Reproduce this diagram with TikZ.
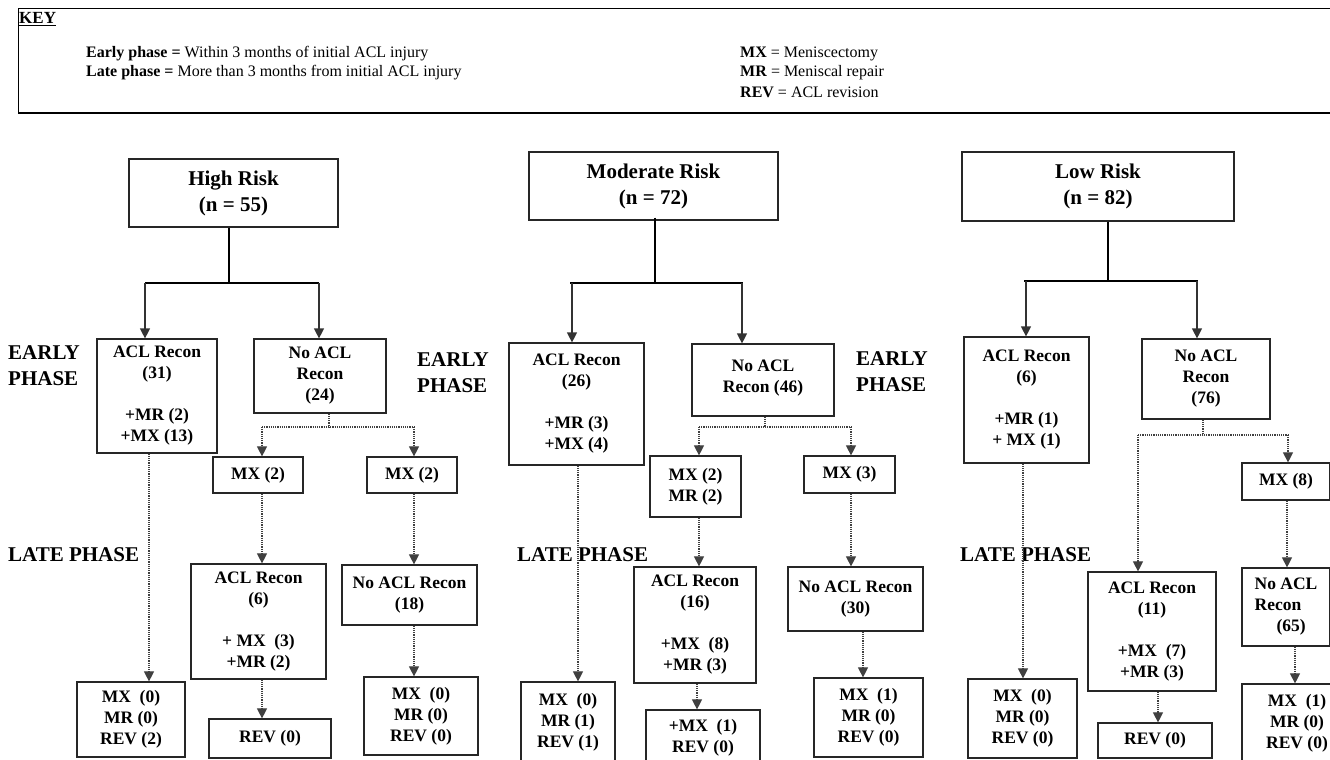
\documentclass[tikz,border=0pt]{standalone}
\usepackage{fontspec}
\setmainfont{Liberation Serif}
\usetikzlibrary{arrows.meta}
\begin{document}
\begin{tikzpicture}[x=1pt,y=-1pt,
  box/.style={draw=black!85, line width=1.2pt, inner sep=0pt, align=center, font=\bfseries\fontsize{17.5}{21}\selectfont},
  titlebox/.style={box, font=\bfseries\fontsize{21}{26}\selectfont},
  phase/.style={anchor=west, align=left, inner sep=0pt, font=\bfseries\fontsize{21}{26}\selectfont},
  junction/.style={line width=2.2pt, black},
  solidarrow/.style={line width=1.2pt, black!80, -{Triangle[length=10pt,width=10pt]}},
  dotline/.style={line width=1.1pt, black!75, dash pattern=on 1.1pt off 1.1pt},
  dotarrow/.style={dotline, -{Triangle[length=10pt,width=10pt]}},
  keytext/.style={anchor=west, inner sep=0pt, font=\fontsize{16}{19}\selectfont}
]
\useasboundingbox (0,0) rectangle (1330,760);
\fill[white] (0,0) rectangle (1330,760);

% ---------- KEY ----------
\draw[line width=1pt] (1340,9) -- (18,9) -- (18,113);
\draw[line width=2pt] (18,113) -- (1340,113);
\node[keytext, font=\bfseries\fontsize{17}{20}\selectfont] (key) at (19,19) {\underline{KEY}};
\node[keytext] (k1) at (86,54) {\textbf{Early phase =} Within 3 months of initial ACL injury};
\node[keytext] (k2) at (86,73) {\textbf{Late phase =} More than 3 months from initial ACL injury};
\node[keytext] (k3) at (740,54) {\textbf{MX} = Meniscectomy};
\node[keytext] (k4) at (740,73) {\textbf{MR} = Meniscal repair};
\node[keytext] (k5) at (740,92) {\textbf{REV} = ACL revision};

% ---------- phase labels ----------
\node[phase] (ep1) at (8,366) {EARLY\\PHASE};
\node[phase] (ep2) at (417,373) {EARLY\\PHASE};
\node[phase] (ep3) at (856,372) {EARLY\\PHASE};
\node[phase] (lp1) at (8,555) {LATE PHASE};
\node[phase] (lp2) at (517,555) {LATE PHASE};
\node[phase] (lp3) at (960,555) {LATE PHASE};

% ---------- HIGH RISK ----------
\node[titlebox, minimum width=209, minimum height=68] (hr) at (233.5,193) {High Risk\\(n = 55)};
\node[box, minimum width=120, minimum height=114] (hacl) at (157,396) {ACL Recon\\(31)\\[21pt]+MR (2)\\+MX (13)};
\node[box, minimum width=132, minimum height=74] (hno) at (320,376) {No ACL\\Recon\\(24)};
\node[box, minimum width=90, minimum height=36] (hmx1) at (258,475) {MX (2)};
\node[box, minimum width=90, minimum height=36] (hmx2) at (412,475) {MX (2)};
\node[box, minimum width=135, minimum height=115] (hacl2) at (258.5,621.5) {ACL Recon\\(6)\\[21pt]+ MX~~(3)\\+MR (2)};
\node[box, minimum width=135, minimum height=60] (hno2) at (409.5,595) {No ACL Recon\\(18)};
\node[box, minimum width=108, minimum height=75] (hbot1) at (131,719.5) {MX~~(0)\\MR (0)\\REV (2)};
\node[box, minimum width=122, minimum height=39] (hrev) at (270,738.5) {REV (0)};
\node[box, minimum width=114, minimum height=78] (hbot3) at (421,716) {MX~~(0)\\MR (0)\\REV (0)};

\coordinate (hj) at (229,283);
\coordinate (hjl) at (145,283);
\coordinate (hjr) at (319,283);
\draw[junction] (hr.south -| hj) -- (hj);
\draw[junction] (hjl) -- (hjr);
\draw[solidarrow] (hjl) -- (hjl |- hacl.north);
\draw[solidarrow] (hjr) -- (hjr |- hno.north);
\coordinate (hd) at (329,427);
\coordinate (hdl) at (262,427);
\coordinate (hdr) at (414,427);
\draw[dotline] (hno.south -| hd) -- (hd);
\draw[dotline] (hdl) -- (hdr);
\draw[dotarrow] (hdl) -- (hdl |- hmx1.north);
\draw[dotarrow] (hdr) -- (hdr |- hmx2.north);
\draw[dotarrow] ([xshift=-8pt]hacl.south) -- ([xshift=-8pt]hacl.south |- hbot1.north);
\draw[dotarrow] ([xshift=4pt]hmx1.south) -- ([xshift=4pt]hmx1.south |- hacl2.north);
\draw[dotarrow] ([xshift=2pt]hmx2.south) -- ([xshift=2pt]hmx2.south |- hno2.north);
\draw[dotarrow] ([xshift=3.5pt]hacl2.south) -- ([xshift=3.5pt]hacl2.south |- hrev.north);
\draw[dotarrow] ([xshift=4.5pt]hno2.south) -- ([xshift=4.5pt]hno2.south |- hbot3.north);

% ---------- MODERATE RISK ----------
\node[titlebox, minimum width=249, minimum height=68] (mr) at (653.5,186) {Moderate Risk\\(n = 72)};
\node[box, minimum width=135, minimum height=122] (macl) at (576.5,404) {ACL Recon\\(26)\\[21pt]+MR (3)\\+MX (4)};
\node[box, minimum width=142, minimum height=72] (mno) at (763,380) {No ACL\\Recon (46)\\[-13pt]\mbox{}};
\node[box, minimum width=91, minimum height=61] (mmx1) at (695.5,486.5) {MX (2)\\MR (2)};
\node[box, minimum width=91, minimum height=37] (mmx2) at (849.5,474.5) {MX (3)};
\node[box, minimum width=122, minimum height=116] (macl2) at (695,625) {ACL Recon\\(16)\\[21pt]+MX~~(8)\\+MR (3)};
\node[box, minimum width=135, minimum height=64] (mno2) at (855.5,599) {No ACL Recon\\(30)};
\node[box, minimum width=94, minimum height=80] (mbot1) at (568,722) {MX~~(0)\\MR (1)\\REV (1)};
\node[box, minimum width=114, minimum height=56] (mbot2) at (703,738) {+MX~~(1)\\REV (0)};
\node[box, minimum width=109, minimum height=79] (mbot3) at (868.5,717.5) {MX~~(1)\\MR (0)\\REV (0)};

\coordinate (mj) at (655,283);
\coordinate (mjl) at (570,283);
\coordinate (mjr) at (743,283);
\draw[junction] ([yshift=3pt]mr.south -| mj) -- (mj);
\draw[junction] (mjl) -- (mjr);
\draw[solidarrow] ([xshift=2pt]mjl) -- ([xshift=2pt]mjl |- macl.north);
\draw[solidarrow] ([xshift=-1pt]mjr) -- ([xshift=-1pt]mjr |- mno.north);
\coordinate (md) at (765,427);
\coordinate (mdl) at (699,427);
\coordinate (mdr) at (851,427);
\draw[dotline] (mno.south -| md) -- (md);
\draw[dotline] (mdl) -- (mdr);
\draw[dotarrow] (mdl) -- (mdl |- mmx1.north);
\draw[dotarrow] (mdr) -- (mdr |- mmx2.north);
\draw[dotarrow] ([xshift=1.5pt]macl.south) -- ([xshift=1.5pt]macl.south |- mbot1.north);
\draw[dotarrow] ([xshift=3.5pt]mmx1.south) -- ([xshift=3.5pt]mmx1.south |- macl2.north);
\draw[dotarrow] ([xshift=2pt]macl2.south) -- ([xshift=2pt]macl2.south |- mbot2.north);
\draw[dotarrow] ([xshift=1.5pt]mmx2.south) -- ([xshift=1.5pt]mmx2.south |- mno2.north);
\draw[dotarrow] ([xshift=7.5pt]mno2.south) -- ([xshift=7.5pt]mno2.south |- mbot3.north);

% ---------- LOW RISK ----------
\node[titlebox, minimum width=272, minimum height=69] (lr) at (1098,186.5) {Low Risk\\(n = 82)};
\node[box, minimum width=125, minimum height=126] (lacl) at (1026.5,400) {ACL Recon\\(6)\\[21pt]+MR (1)\\+ MX (1)};
\node[box, minimum width=128, minimum height=80] (lno) at (1206,379) {No ACL\\Recon\\(76)};
\node[box, minimum width=88, minimum height=37] (lmx) at (1286,481.5) {MX (8)};
\node[box, minimum width=88, minimum height=78, align=left] (lno2) at (1286,607) {No ACL\\Recon\\\hspace*{22pt}(65)};
\node[box, minimum width=110, minimum height=78] (lbot3) at (1297,723) {MX~~(1)\\MR (0)\\REV (0)};
\node[box, minimum width=109, minimum height=79] (lbot1) at (1022.5,718.5) {MX~~(0)\\MR (0)\\REV (0)};
\node[box, minimum width=128, minimum height=119] (lacl2) at (1152,631.5) {ACL Recon\\(11)\\[21pt]+MX~~(7)\\+MR (3)};
\node[box, minimum width=114, minimum height=35] (lrev) at (1155,740.5) {REV (0)};

\coordinate (lj) at (1108,281);
\coordinate (ljl) at (1024,281);
\coordinate (ljr) at (1198,281);
\draw[junction] (lr.south -| lj) -- (lj);
\draw[junction] (ljl) -- (ljr);
\draw[solidarrow] ([xshift=2pt]ljl) -- ([xshift=2pt]ljl |- lacl.north);
\draw[solidarrow] ([xshift=-1pt]ljr) -- ([xshift=-1pt]ljr |- lno.north);
\coordinate (ld) at (1203,435);
\coordinate (ldl) at (1138,435);
\coordinate (ldr) at (1288,435);
\draw[dotline] (lno.south -| ld) -- (ld);
\draw[dotline] (ldl) -- (ldr);
\draw[dotarrow] (ldr) -- (ldr |- lmx.north);
\draw[dotarrow] (ldl) -- (ldl |- lacl2.north);
\draw[dotarrow] ([xshift=-3.5pt]lacl.south) -- ([xshift=-3.5pt]lacl.south |- lbot1.north);
\draw[dotarrow] ([xshift=6pt]lacl2.south) -- ([xshift=6pt]lacl2.south |- lrev.north);
\draw[dotarrow] ([xshift=1pt]lmx.south) -- ([xshift=1pt]lmx.south |- lno2.north);
\draw[dotarrow] ([xshift=9pt]lno2.south) -- ([xshift=9pt]lno2.south |- lbot3.north);
\end{tikzpicture}
\end{document}
